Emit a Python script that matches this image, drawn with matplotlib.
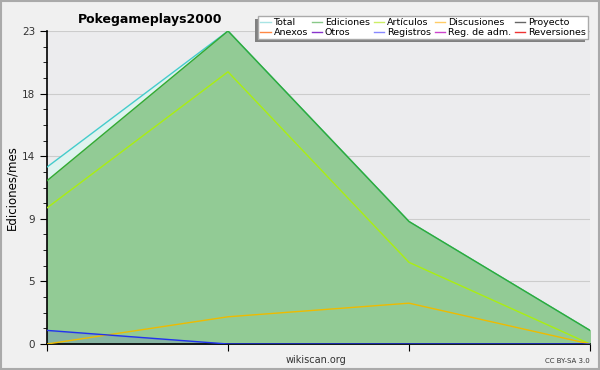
import matplotlib
matplotlib.use("Agg")
import matplotlib.pyplot as plt
from matplotlib.lines import Line2D
from matplotlib.patches import Rectangle

months = [0, 1, 2, 3]
total = [13, 23, 9, 1]
ediciones = [12, 23, 9, 1]
articulos = [10, 20, 6, 0]
discusiones = [0, 2, 3, 0]
registros = [1, 0, 0, 0]

y_max = 23
y_ticks = [0, 4.6, 9.2, 13.8, 18.4, 23]
y_tick_labels = ["0", "5", "9", "14", "18", "23"]

legend_names = ["Total", "Anexos", "Ediciones", "Otros", "Artículos", "Registros",
                "Discusiones", "Reg. de adm.", "Proyecto", "Reversiones"]
legend_colors = ["#a8e4e4", "#ff8844", "#88c888", "#8833cc", "#ccee66", "#8888ff",
                 "#ffcc66", "#cc44cc", "#666666", "#ee3333"]

plt.rcParams["font.family"] = ["DejaVu Sans"]

fig = plt.figure(figsize=(6, 3.7), dpi=100, facecolor="#f0f0f0")
fig.patches.append(Rectangle((0.001, 0.002), 0.997, 0.995, transform=fig.transFigure,
                             fill=False, edgecolor="#aaaaaa", linewidth=1.5))
ax = fig.add_axes([47 / 600, 26 / 370, 543 / 600, 313 / 370])
ax.set_facecolor("#ececee")

# filled areas
ax.fill_between(months, total, color="#dff3ef", zorder=1)
ax.plot(months, total, color="#44cccc", linewidth=1, zorder=3)
ax.fill_between(months, ediciones, color="#92cb95", zorder=2)
ax.plot(months, ediciones, color="#33aa33", linewidth=1, zorder=4)
ax.fill_between(months, registros, color="#6677cc", alpha=0.25, zorder=2.5)
ax.plot(months, articulos, color="#aaee11", linewidth=1, zorder=4)
ax.plot(months, discusiones, color="#eebb00", linewidth=1, zorder=4)
ax.plot(months, registros, color="#2233ee", linewidth=1, zorder=4)

ax.set_xlim(0, 3)
ax.set_ylim(0, y_max)
ax.set_xticks(months)
ax.set_xticklabels([])
ax.set_yticks(y_ticks)
ax.set_yticklabels(y_tick_labels, fontsize=7.5, color="#333333")
ax.set_yticks([v * 1.15 for v in range(21)], minor=True)
ax.tick_params(axis="y", which="major", length=5, direction="out")
ax.tick_params(axis="y", which="minor", length=3, direction="out")
ax.tick_params(axis="x", length=5, direction="out")
ax.grid(axis="y", color="#cccccc", linewidth=0.8, zorder=0)
ax.set_axisbelow(True)
for side in ["top", "right"]:
    ax.spines[side].set_visible(False)
ax.spines["left"].set_linewidth(1.2)
ax.spines["bottom"].set_linewidth(1.2)

ax.set_ylabel("Ediciones/mes", fontsize=8.5)
ax.yaxis.set_label_coords(-0.052, 0.5)

fig.text(150 / 600, 1 - 19 / 370, "Pokegameplays2000", fontsize=9, fontweight="bold",
         ha="center", va="center")
fig.text(316 / 600, 1 - 360 / 370, "wikiscan.org", fontsize=7, ha="center", va="center",
         color="#333333")
fig.text(567 / 600, 1 - 361 / 370, "CC BY-SA 3.0", fontsize=5, ha="center", va="center",
         color="#333333")

handles = [Line2D([], [], color=c, linewidth=1) for c in legend_colors]
leg = fig.legend(handles, legend_names, ncol=5, loc="upper right",
                 bbox_to_anchor=(593 / 600, 1 - 11 / 370), fontsize=6.8,
                 frameon=True, fancybox=False, shadow=False, framealpha=1,
                 edgecolor="#aaaaaa", handlelength=1.1, handletextpad=0.3,
                 columnspacing=0.4, labelspacing=0.1, borderpad=0.25)
leg.get_frame().set_linewidth(1.0)

# shadow to the lower left of the legend box
fig.canvas.draw()
bb = leg.get_window_extent().transformed(fig.transFigure.inverted())
fig.patches.append(Rectangle((bb.x0 - 3 / 600, bb.y0 - 3 / 370), bb.width, bb.height,
                             transform=fig.transFigure, facecolor="#808080",
                             edgecolor="none", zorder=0.5))

fig.savefig("out.png", dpi=100, facecolor=fig.get_facecolor())
